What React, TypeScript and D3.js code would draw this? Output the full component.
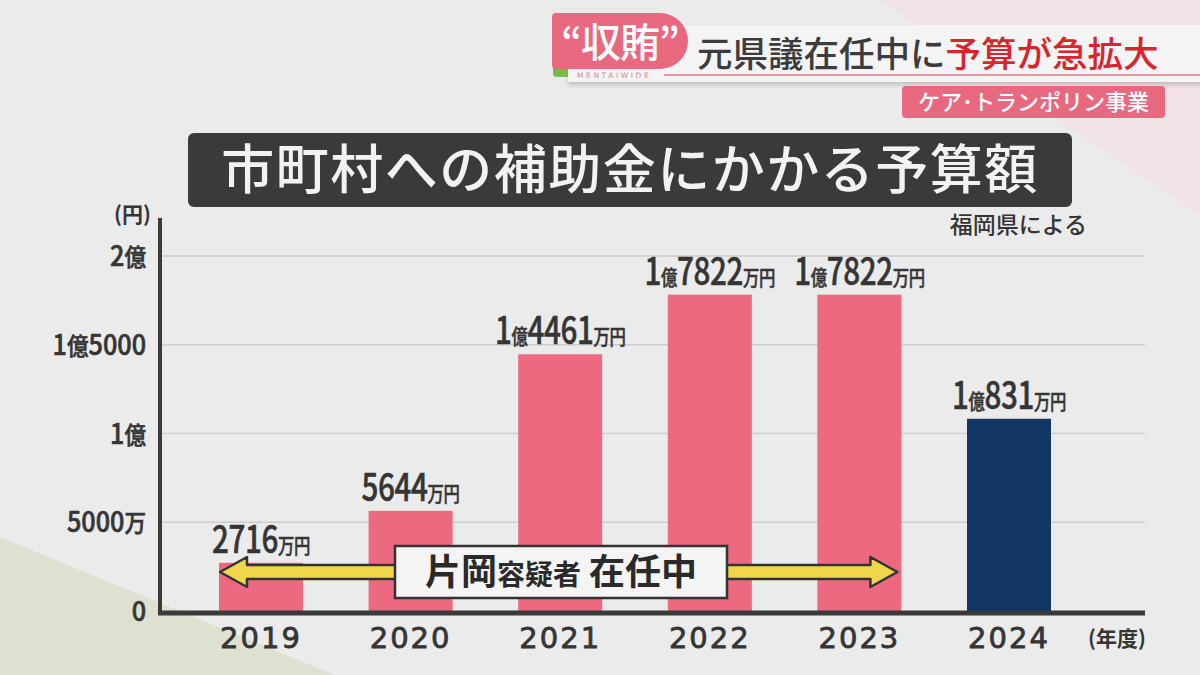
import React from "react";
import * as d3 from "d3";

const years = ["2019", "2020", "2021", "2022", "2023", "2024"];
const budgets = [27160000, 56440000, 144610000, 178220000, 178220000, 108310000];
const barColors = ["#ec6980", "#ec6980", "#ec6980", "#ec6980", "#ec6980", "#123764"];
const tickValues = [0, 50000000, 100000000, 150000000, 200000000];
const tickLabels = [
  [{ t: "0", big: true }],
  [{ t: "5000", big: true }, { t: "万", big: false }],
  [{ t: "1", big: true }, { t: "億", big: false }],
  [{ t: "1", big: true }, { t: "億", big: false }, { t: "5000", big: true }],
  [{ t: "2", big: true }, { t: "億", big: false }],
];

const W = 1200;
const H = 675;
const JP = "'Noto Sans CJK JP', 'Noto Sans', sans-serif";
const INK = "#353535";

function valueParts(v: number) {
  const oku = Math.floor(v / 1e8);
  const man = Math.round((v % 1e8) / 1e4);
  const parts: { t: string; big: boolean }[] = [];
  if (oku > 0) {
    parts.push({ t: String(oku), big: true });
    parts.push({ t: "億", big: false });
  }
  parts.push({ t: String(man), big: true });
  parts.push({ t: "万円", big: false });
  return parts;
}

export default function App() {
  const axisLeft = 160;
  const axisRight = 1145;
  const x = d3.scaleBand<string>().domain(years).range([219, 1051]).paddingInner(0.4385).paddingOuter(0);
  const y = d3.scaleLinear().domain([0, 200000000]).range([611, 256]);

  const arrowY = 572;
  const arrowL = x("2019")! + 1;
  const arrowR = x("2023")! + x.bandwidth() - 4;

  return (
    <svg width={W} height={H} viewBox={`0 0 ${W} ${H}`} style={{ display: "block", position: "absolute", left: 0, top: 0 }}>
      <defs>
        <filter id="sh" x="-5%" y="-20%" width="110%" height="160%">
          <feDropShadow dx="0" dy="3" stdDeviation="2" floodColor="#000" floodOpacity="0.18" />
        </filter>
      </defs>
      <rect x={0} y={0} width={W} height={H} fill="#ebebeb" />
      <polygon points="880,0 1200,0 1200,215" fill="#f1e3e5" />
      <polygon points="0,537 335,675 0,675" fill="#dfe1d0" />

      {/* header */}
      <rect x={568} y={25} width={640} height={57} fill="#f4f4f4" filter="url(#sh)" />
      <line x1={664} x2={1200} y1={75} y2={75} stroke="#e07a8c" strokeWidth={1.5} />
      <text x={577} y={78} fontFamily="'DejaVu Sans', sans-serif" fontSize={7.5} letterSpacing={2.6} fill="#c98e98">MENTAIWIDE</text>
      <path d="M553,62 L553,74 Q553,77 558,77 L568,77 L568,62 Z" fill="#7db94a" />
      <path d="M556,13 L660,13 A28,28 0 0 1 688,41 A28,28 0 0 1 660,69 L556,69 Q552,69 552,65 L552,17 Q552,13 556,13 Z" fill="#e8687f" />
      <text x={620} y={57} textAnchor="middle" fontFamily={JP} fontWeight={500} fontSize={40} fill="#fff" letterSpacing={-1}>“収賄”</text>
      <text x={697} y={67} fontFamily={JP} fontWeight={500} fontSize={35.5} fill="#3c3c3c">
        元県議在任中に<tspan fill="#d8252d">予算が急拡大</tspan>
      </text>
      <rect x={902} y={86} width={263} height={32} rx={4} fill="#e8687f" />
      <text x={1033.5} y={110} textAnchor="middle" fontFamily={JP} fontWeight={500} fontSize={22} fill="#fff">ケア･トランポリン事業</text>

      {/* title */}
      <rect x={188} y={133} width={884} height={74} rx={6} fill="#3a3a3a" />
      <text x={630} y={189} textAnchor="middle" fontFamily={JP} fontWeight={500} fontSize={53} fill="#f2f2f2" letterSpacing={1.5}>
        市町村への補助金にかかる予算額
      </text>

      <text x={1087} y={233} textAnchor="end" fontFamily={JP} fontWeight={500} fontSize={23} fill={INK}>福岡県による</text>
      <text x={151} y={222} textAnchor="end" fontFamily={JP} fontWeight={700} fontSize={21} fill={INK}>(円)</text>

      {/* grid */}
      {tickValues.filter((t) => t > 0).map((t) => (
        <line key={t} x1={axisLeft} x2={axisRight} y1={y(t)} y2={y(t)} stroke="#cdcdcd" strokeWidth={1.5} />
      ))}

      {/* y tick labels */}
      {tickValues.map((t, i) => (
        <g key={t} transform={`translate(146,${y(t) + 10}) scale(0.9,1)`}>
          <text x={0} y={0} textAnchor="end" fontFamily={JP} fontWeight={500} fill={INK} stroke={INK} strokeWidth={0.6}>
            {tickLabels[i].map((p, j) => (
              <tspan key={j} fontSize={p.big ? 28 : 24}>{p.t}</tspan>
            ))}
          </text>
        </g>
      ))}

      {/* bars */}
      {budgets.map((v, i) => (
        <rect key={years[i]} x={x(years[i])} y={y(v)} width={x.bandwidth()} height={y(0) - y(v)} fill={barColors[i]} />
      ))}

      {/* value labels */}
      {budgets.map((v, i) => (
        <g key={"l" + years[i]} transform={`translate(${x(years[i])! + x.bandwidth() / 2},${y(v) - 10}) scale(0.78,1)`}>
          <text x={0} y={0} textAnchor="middle" fontFamily={JP} fontWeight={500} fill={INK} stroke={INK} strokeWidth={0.5} letterSpacing={-0.5}>
            {valueParts(v).map((p, j) => (
              <tspan key={j} fontSize={p.big ? 38 : 21}>{p.t}</tspan>
            ))}
          </text>
        </g>
      ))}

      {/* axes */}
      <line x1={axisLeft} x2={axisLeft} y1={218} y2={615} stroke="#3a3a3a" strokeWidth={4} />
      <line x1={axisLeft - 2} x2={axisRight} y1={613} y2={613} stroke="#3a3a3a" strokeWidth={5} />

      {/* year labels */}
      {years.map((yr) => (
        <text key={yr} x={x(yr)! + x.bandwidth() / 2} y={648} textAnchor="middle" fontFamily="'DejaVu Sans', sans-serif" fontWeight={400} fontSize={29} letterSpacing={2} fill={INK} stroke={INK} strokeWidth={0.8}>
          {yr}
        </text>
      ))}
      <text x={1146} y={646} textAnchor="end" fontFamily={JP} fontWeight={700} fontSize={21} fill={INK}>(年度)</text>

      {/* tenure arrow */}
      <path
        d={`M${arrowL},${arrowY} L${arrowL + 27},${arrowY - 15} L${arrowL + 27},${arrowY - 7} L${arrowR - 27},${arrowY - 7} L${arrowR - 27},${arrowY - 15} L${arrowR},${arrowY} L${arrowR - 27},${arrowY + 15} L${arrowR - 27},${arrowY + 7} L${arrowL + 27},${arrowY + 7} L${arrowL + 27},${arrowY + 15} Z`}
        fill="#efd64a"
        stroke="#333"
        strokeWidth={2.5}
        strokeLinejoin="round"
      />
      <rect x={395} y={546} width={332} height={52} fill="#f4f4f4" stroke="#333" strokeWidth={2.5} />
      <text x={561} y={585} textAnchor="middle" fontFamily={JP} fontWeight={700} fill="#2a2a2a">
        <tspan fontSize={36}>片岡</tspan>
        <tspan fontSize={28}>容疑者</tspan>
        <tspan fontSize={36}> 在任中</tspan>
      </text>
    </svg>
  );
}
